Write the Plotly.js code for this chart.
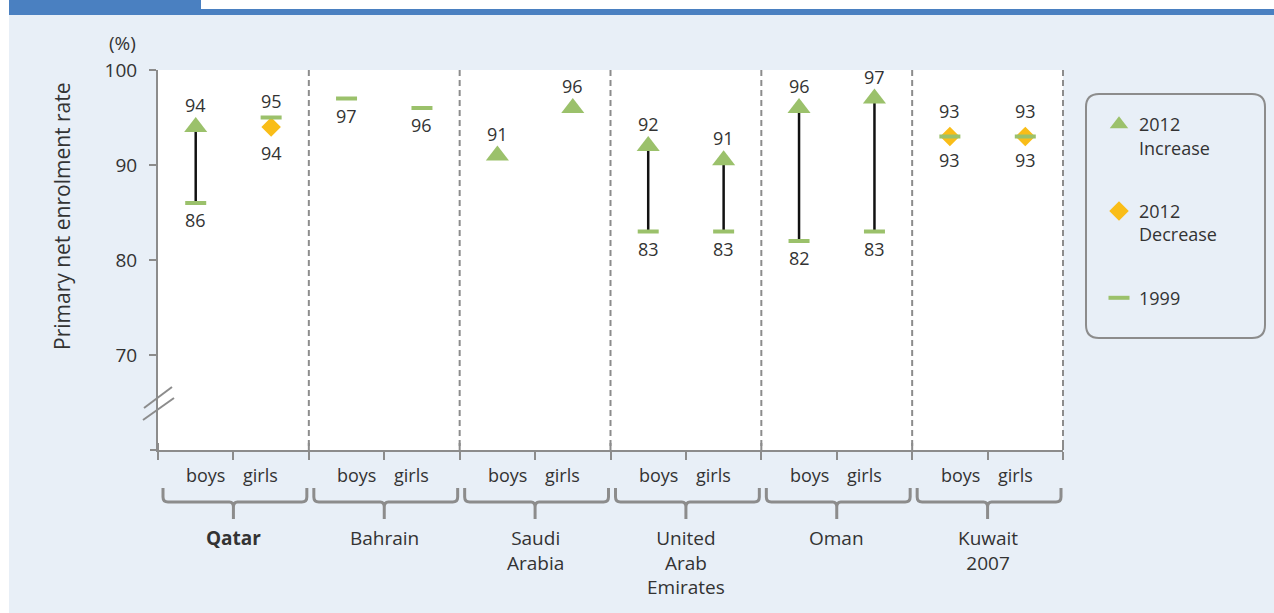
<!DOCTYPE html>
<html><head><meta charset="utf-8">
<script src="https://cdn.plot.ly/plotly-3.0.1.min.js"></script>
<style>html,body{margin:0;padding:0;background:#fff}#chart{width:1274px;height:613px}</style>
</head><body><div id="chart"></div>
<script>
// ---------- data ----------
const countries = ['Qatar', 'Bahrain', 'Saudi Arabia', 'United Arab Emirates', 'Oman', 'Kuwait 2007'];
const highlight = 'Qatar';
const genders = ['boys', 'girls'];
const boys1999  = [86, 97, null, 83, 82, 93];
const girls1999 = [95, 96, null, 83, 83, 93];
const boys2012  = [94, null, 91, 92, 96, 93];
const girls2012 = [94, null, 96, 90.5, 97, 93];
const yTickVals = [70, 80, 90, 100];
const yTitle = 'Primary net enrolment rate';
const unitLabel = '(%)';
const legendNames = ['2012<br>Increase', '2012<br>Decrease', '1999'];

// ---------- style ----------
const FONT = 'Open Sans, Noto Sans, sans-serif';
const TXT = '#333333';
const GRAY = '#8c8c8c';
const GREEN = '#9bc16b';
const GOLD = '#f9bd18';
const BG = '#e8eff7';
const BLUE = '#4a80c1';

const FW = 1274, FH = 613, L = 158, R = 1063, T = 70, B = 450;
const pw = R - L, ph = B - T;
const X = px => (px - L) / pw;
const Y = py => (B - py) / ph;
const P = (px, py) => X(px) + ',' + Y(py);
const nG = countries.length;
const gw = pw / nG;

// ---------- points ----------
const pts = [];
countries.forEach((c, i) => {
  [[boys1999[i], boys2012[i]], [girls1999[i], girls2012[i]]].forEach((pair, g) => {
    pts.push({x: 2 * i + 0.5 + g, v99: pair[0], v12: pair[1]});
  });
});
const isInc = p => p.v12 != null && (p.v99 == null || p.v12 > p.v99);
const isDec = p => p.v12 != null && p.v99 != null && p.v12 <= p.v99;

const conn = {x: [], y: [], type: 'scatter', mode: 'lines', line: {color: '#111', width: 2.5},
  showlegend: false, hoverinfo: 'skip', cliponaxis: false};
pts.filter(p => p.v99 != null && isInc(p)).forEach(p => {
  conn.x.push(p.x, p.x, null); conn.y.push(p.v99, p.v12, null);
});
const incP = pts.filter(isInc), decP = pts.filter(isDec), p99 = pts.filter(p => p.v99 != null);
const traces = [
  conn,
  {type: 'scatter', mode: 'markers', name: legendNames[0], legendgroup: 'a',
   x: incP.map(p => p.x), y: incP.map(p => p.v12), cliponaxis: false,
   marker: {symbol: 'triangle-up', size: 20, color: GREEN}},
  {type: 'scatter', mode: 'markers', name: legendNames[1], legendgroup: 'b',
   x: decP.map(p => p.x), y: decP.map(p => p.v12), cliponaxis: false,
   marker: {symbol: 'diamond', size: 15, color: GOLD}},
  {type: 'scatter', mode: 'markers', name: legendNames[2], legendgroup: 'c',
   x: p99.map(p => p.x), y: p99.map(p => p.v99), cliponaxis: false,
   marker: {symbol: 'line-ew', size: 15, color: GREEN, line: {color: GREEN, width: 4}}}
];

// ---------- value labels ----------
const OFF = {tri: 22, dia: 26, line: 17};
const annotations = [];
function lab(x, v, up, off) {
  annotations.push({x: x, y: v, xref: 'x', yref: 'y', text: String(Math.round(v)), showarrow: false,
    xanchor: 'center', yanchor: 'middle',
    yshift: up ? off : -off, font: {size: 18, color: TXT, family: FONT}});
}
pts.forEach(p => {
  const k12 = p.v12 == null ? null : (isInc(p) ? 'tri' : 'dia');
  if (p.v12 != null && p.v99 != null) {
    const same = Math.abs(p.v12 - p.v99) < 0.5;
    const o12 = same ? Math.max(OFF[k12], OFF.line) : OFF[k12];
    const o99 = same ? Math.max(OFF[k12], OFF.line) - 3 : OFF.line;
    if (p.v12 >= p.v99) { lab(p.x, p.v12, true, o12); lab(p.x, p.v99, false, o99); }
    else { lab(p.x, p.v99, true, o99); lab(p.x, p.v12, false, o12); }
  } else if (p.v12 != null) lab(p.x, p.v12, true, OFF[k12]);
  else if (p.v99 != null) lab(p.x, p.v99, false, OFF.line);
});

// ---------- category labels ----------
countries.forEach((c, i) => {
  genders.forEach((g, j) => {
    annotations.push({x: 2 * i + 1 + (j === 0 ? -0.365 : 0.365), xref: 'x', y: Y(475), yref: 'paper',
      xanchor: 'center', yanchor: 'middle',
      text: g, showarrow: false, font: {size: 18, color: TXT, family: FONT}});
  });
  const t = c.split(' ').join('<br>');
  annotations.push({x: 2 * i + 1, xref: 'x', y: Y(523), yref: 'paper', xanchor: 'center', yanchor: 'top',
    text: c === highlight ? '<b>' + t + '</b>' : t, showarrow: false,
    font: {size: 19, color: TXT, family: FONT}});
});
annotations.push({x: X(62), y: Y(216), xref: 'paper', yref: 'paper', text: yTitle, textangle: -90,
  xanchor: 'center', yanchor: 'middle',
  showarrow: false, font: {size: 21, color: TXT, family: FONT}});
annotations.push({x: X(122), y: Y(43), xref: 'paper', yref: 'paper', text: unitLabel,
  xanchor: 'center', yanchor: 'middle',
  showarrow: false, font: {size: 19, color: TXT, family: FONT}});

// ---------- decoration shapes ----------
const shapes = [];
const rect = (x0, y0, x1, y1, col) => shapes.push({type: 'rect', xref: 'paper', yref: 'paper',
  x0: X(x0), x1: X(x1), y0: Y(y0), y1: Y(y1), fillcolor: col, line: {width: 0}, layer: 'below'});
rect(0, 0, FW, 9, '#ffffff');
rect(0, 0, 9, FH, '#ffffff');
rect(9, 0, 201, 15, BLUE);
rect(201, 9, FW, 15, BLUE);
const seg = (x0, y0, x1, y1, extra) => shapes.push(Object.assign({type: 'line', xref: 'paper', yref: 'paper',
  x0: X(x0), x1: X(x1), y0: Y(y0), y1: Y(y1), line: {color: GRAY, width: 2}}, extra || {}));
for (let k = 1; k <= nG; k++) seg(L + k * gw, T, L + k * gw, B, {line: {color: GRAY, width: 2, dash: '6px,4px'}});
for (let k = 0; k <= nG; k++) seg(L + k * gw, B - 7, L + k * gw, B);
seg(150, B, L, B);
// axis break
seg(143, 420, 174, 398);
seg(144, 408, 172, 387);
// brackets
for (let i = 0; i < nG; i++) {
  const xs = L + i * gw + 5, xe = L + (i + 1) * gw - 2, xc = L + (i + 0.5) * gw;
  const yt = 488, yb = 502, ys = 519;
  const path = 'M' + P(xs, yt) + ' L' + P(xs, yb - 5) + ' Q' + P(xs, yb) + ' ' + P(xs + 5, yb) +
    ' L' + P(xc - 4, yb) + ' Q' + P(xc, yb) + ' ' + P(xc, yb + 5) + ' L' + P(xc, ys) +
    ' M' + P(xc, yb + 5) + ' Q' + P(xc, yb) + ' ' + P(xc + 4, yb) +
    ' L' + P(xe - 5, yb) + ' Q' + P(xe, yb) + ' ' + P(xe, yb - 5) + ' L' + P(xe, yt);
  shapes.push({type: 'path', xref: 'paper', yref: 'paper', path: path, line: {color: GRAY, width: 3}});
}
// legend box
{
  const x0 = 1086, x1 = 1265, y0 = 94, y1 = 338, r = 13;
  const path = 'M' + P(x0 + r, y0) + ' L' + P(x1 - r, y0) + ' Q' + P(x1, y0) + ' ' + P(x1, y0 + r) +
    ' L' + P(x1, y1 - r) + ' Q' + P(x1, y1) + ' ' + P(x1 - r, y1) + ' L' + P(x0 + r, y1) +
    ' Q' + P(x0, y1) + ' ' + P(x0, y1 - r) + ' L' + P(x0, y0 + r) + ' Q' + P(x0, y0) + ' ' + P(x0 + r, y0) + ' Z';
  shapes.push({type: 'path', xref: 'paper', yref: 'paper', path: path, line: {color: GRAY, width: 2}});
}

const layout = {
  width: FW, height: FH,
  margin: {l: L, r: FW - R, t: T, b: FH - B, pad: 0},
  paper_bgcolor: BG, plot_bgcolor: '#ffffff',
  font: {family: FONT, color: TXT},
  showlegend: true,
  legend: {x: X(1099), y: Y(106), xanchor: 'left', yanchor: 'top', bgcolor: 'rgba(0,0,0,0)',
    borderwidth: 0, font: {size: 18, color: TXT, family: FONT}, valign: 'top',
    traceorder: 'grouped', tracegroupgap: 37, itemwidth: 30},
  xaxis: {range: [0, 2 * nG], showgrid: false, zeroline: false, showline: true, linecolor: GRAY, linewidth: 2,
    ticks: 'outside', tickmode: 'array', tickvals: Array.from({length: 2 * nG + 1}, (_, k) => k),
    ticklen: 8, tickwidth: 2, tickcolor: GRAY, showticklabels: false, fixedrange: true},
  yaxis: {range: [60, 100], showgrid: false, zeroline: false, showline: true, linecolor: GRAY, linewidth: 2,
    ticks: 'outside', tickmode: 'array', tickvals: yTickVals, ticklen: 7, tickwidth: 2, tickcolor: GRAY,
    tickfont: {size: 19, color: TXT, family: FONT}, ticklabelstandoff: 8, fixedrange: true},
  annotations: annotations,
  shapes: shapes,
  hovermode: false
};
Plotly.newPlot('chart', traces, layout, {displayModeBar: false, staticPlot: true});
</script>
</body></html>
